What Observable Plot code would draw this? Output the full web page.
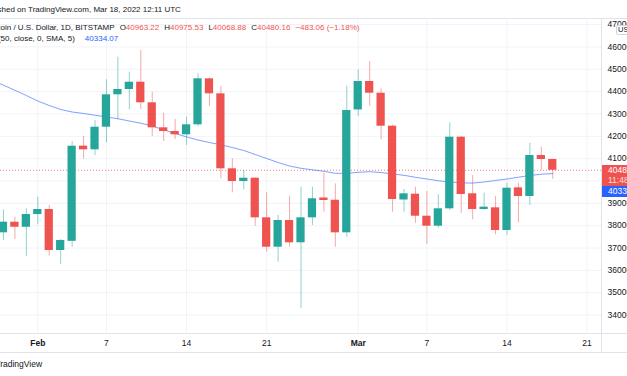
<!DOCTYPE html>
<html>
<head>
<meta charset="utf-8">
<script src="https://cdn.jsdelivr.net/npm/d3@7"></script>
<script src="https://cdn.jsdelivr.net/npm/@observablehq/plot@0.6"></script>
<style>
  html, body { margin: 0; padding: 0; background: #ffffff; }
  body { width: 627px; height: 376px; overflow: hidden; position: relative; font-family: "Liberation Sans", Arial, sans-serif; color: #131722; }
  #chart { position: absolute; left: 0; top: 0; }
  .txt { position: absolute; white-space: nowrap; font-size: 8px; line-height: 10px; color: #131722; }
  .red { color: #ef5350; }
  .blue { color: #2962ff; }
  .gap { margin-left: 5px; }
  .hline { position: absolute; height: 1px; background: #e0e3eb; left: 0; width: 627px; }
  .vline { position: absolute; width: 1px; background: #e0e3eb; }
  .box { position: absolute; left: 602px; width: 25px; overflow: hidden; color: #ffffff; font-size: 8.5px; }
  .box span { position: absolute; left: 6px; line-height: 9px; white-space: nowrap; }
</style>
</head>
<body>
<div id="chart"></div>
<script>
// ---- data ----
const dates = ["2022-01-29","2022-01-30","2022-01-31","2022-02-01","2022-02-02","2022-02-03","2022-02-04","2022-02-05","2022-02-06","2022-02-07","2022-02-08","2022-02-09","2022-02-10","2022-02-11","2022-02-12","2022-02-13","2022-02-14","2022-02-15","2022-02-16","2022-02-17","2022-02-18","2022-02-19","2022-02-20","2022-02-21","2022-02-22","2022-02-23","2022-02-24","2022-02-25","2022-02-26","2022-02-27","2022-02-28","2022-03-01","2022-03-02","2022-03-03","2022-03-04","2022-03-05","2022-03-06","2022-03-07","2022-03-08","2022-03-09","2022-03-10","2022-03-11","2022-03-12","2022-03-13","2022-03-14","2022-03-15","2022-03-16","2022-03-17","2022-03-18"];
const open  = [37682,38157,37930,38500,38725,36890,37300,41560,41396,42407,43857,44094,44420,43499,42380,42215,42067,42514,44573,43901,40546,39978,40125,38353,37038,38233,37235,38353,39240,39140,37682,43180,44452,43928,42452,39150,39410,38425,37978,38756,41960,39427,38725,38800,37785,39694,39306,41141,40963.22];
const high  = [38711,38380,38756,39275,38904,37383,41767,41990,42707,44528,45539,44868,45838,43973,43033,42751,42854,44796,44590,44228,40993,40470,40150,39472,38457,39320,39723,39723,40349,39875,44241,44975,45346,44125,42500,39620,39723,39530,39383,42604,42004,40246,39454,39306,39902,39902,41691,41512,40975.53];
const low   = [37338,37383,36622,38040,36636,36264,37040,40975,41140,41709,42738,43185,43199,41990,41767,41857,41588,42430,43333,40098,39472,39606,37978,36815,36367,37038,34309,38009,38604,37038,37486,42886,43346,41843,38604,38604,38112,37159,37888,38680,38559,38264,38680,37593,37562,38130,38904,40470,40068.88];
const close = [38157,37930,38500,38725,36890,37338,41557,41396,42407,43857,44094,44420,43499,42380,42215,42067,42514,44573,43901,40546,39978,40125,38353,37038,38233,37235,38353,39204,39128,37682,43154,44452,43928,42452,39172,39427,38425,37978,38756,41960,39396,38725,38829,37785,39678,39306,41141,40962,40480.16];
const smaDates = ["2022-01-28", ...dates];
const sma = [44514,44286,44058,43825,43579,43378,43199,43087,43020,42944,42863,42787,42684,42586,42461,42291,42125,41973,41834,41722,41620,41499,41365,41186,41007,40828,40671,40568,40501,40434,40344,40344,40389,40416,40380,40313,40255,40166,40089,40013,39955,39919,39906,39955,40022,40089,40170,40246,40304,40334.07];
const yTicks = [34000,35000,36000,37000,38000,39000,40000,41000,42000,43000,44000,45000,46000,47000];
const monthTicks = ["2022-02-01","2022-03-01"];
const dayTicks = ["2022-02-07","2022-02-14","2022-02-21","2022-03-07","2022-03-14","2022-03-21"];
const xDomain = ["2022-01-28T17:47Z","2022-03-22T06:11Z"];
const yDomain = [33177, 47271];
const lastClose = 40480.16;
const smaLast = 40334.07;

// ---- build ----
const GREEN = "#26a69a", RED = "#ef5350";
const DAY = 864e5;
const candles = dates.map((d, i) => ({date: new Date(d), open: open[i], high: high[i], low: low[i], close: close[i]}));
const smaData = smaDates.map((d, i) => ({date: new Date(d), value: sma[i]}));
const isUp = d => d.close >= d.open;
const upC = candles.filter(isUp), dnC = candles.filter(d => !isUp(d));
const bodyX1 = d => new Date(+d.date - 0.36 * DAY);
const bodyX2 = d => new Date(+d.date + 0.36 * DAY);
const allTicks = [...monthTicks, ...dayTicks].map(d => new Date(d));

const chart = Plot.plot({
  width: 627, height: 376,
  marginTop: 18, marginRight: 26, marginBottom: 43, marginLeft: 0,
  style: {fontFamily: "'Liberation Sans', Arial, sans-serif", fontSize: "8.5px", color: "#131722", background: "transparent"},
  x: {type: "utc", domain: xDomain.map(d => new Date(d))},
  y: {type: "linear", domain: yDomain},
  marks: [
    Plot.gridY({ticks: yTicks, stroke: "#f0f3fa", strokeOpacity: 1}),
    Plot.gridX({ticks: allTicks, stroke: "#f0f3fa", strokeOpacity: 1}),
    Plot.ruleY([lastClose], {stroke: RED, strokeOpacity: 0.75, strokeDasharray: "1,2"}),
    Plot.line(smaData, {x: "date", y: "value", stroke: "#2962ff", strokeOpacity: 0.6, strokeWidth: 1}),
    Plot.ruleX(upC, {x: "date", y1: "low", y2: "high", stroke: GREEN, strokeOpacity: 0.5}),
    Plot.ruleX(dnC, {x: "date", y1: "low", y2: "high", stroke: RED, strokeOpacity: 0.5}),
    Plot.rect(upC, {x1: bodyX1, x2: bodyX2, y1: "open", y2: "close", fill: GREEN}),
    Plot.rect(dnC, {x1: bodyX1, x2: bodyX2, y1: "open", y2: "close", fill: RED}),
    Plot.axisY({anchor: "right", ticks: yTicks, tickSize: 0, tickPadding: 6, tickFormat: d => String(d), fill: "#131722", fontSize: 8.5}),
    Plot.axisX({ticks: dayTicks.map(d => new Date(d)), tickSize: 0, tickPadding: 6, tickFormat: d => String(d.getUTCDate()), fill: "#131722", fontSize: 8.5}),
    Plot.axisX({ticks: monthTicks.map(d => new Date(d)), tickSize: 0, tickPadding: 6, tickFormat: d3.utcFormat("%b"), fill: "#131722", fontSize: 8.5, fontWeight: "bold"})
  ]
});
document.getElementById("chart").appendChild(chart);

// ---- overlays: frame lines, legend texts, price labels ----
const body = document.body;
function el(cls, css, html) {
  const e = document.createElement("div");
  e.className = cls;
  Object.assign(e.style, css);
  if (html != null) e.innerHTML = html;
  body.appendChild(e);
  return e;
}
el("hline", {top: "18px"});
el("hline", {top: "333px"});
el("hline", {top: "352px"});
el("vline", {left: "601px", top: "18px", height: "334px"});

const ctx = document.createElement("canvas").getContext("2d");
function w(text, size) { ctx.font = size + "px 'Liberation Sans', Arial, sans-serif"; return ctx.measureText(text).width; }
const fmt = d3.format(".2f");
const chg = lastClose - open[open.length - 1];
const pct = chg / open[open.length - 1] * 100;
const minus = v => (v < 0 ? "\u2212" : "") + fmt(Math.abs(v));

el("txt", {top: "4.5px", left: (1.5 - w("Publis", 8)) + "px"}, "Published on TradingView.com, Mar 18, 2022 12:11 UTC");
el("txt", {top: "23.3px", left: (0.5 - w("Bitc", 8)) + "px"},
  "Bitcoin / U.S. Dollar, 1D, BITSTAMP" +
  `<span class="gap">O</span><span class="red">${fmt(open[open.length-1])}</span>` +
  `<span class="gap">H</span><span class="red">${fmt(high[high.length-1])}</span>` +
  `<span class="gap">L</span><span class="red">${fmt(low[low.length-1])}</span>` +
  `<span class="gap">C</span><span class="red">${fmt(lastClose)}</span>` +
  `<span class="gap red">${minus(chg)} (${minus(pct)}%)</span>`);
el("txt", {top: "34.3px", left: (1 - w("MA (", 8)) + "px"},
  `MA (50, close, 0, SMA, 5)<span class="gap"></span><span class="gap blue">${fmt(smaLast)}</span>`);
el("txt", {top: "359px", left: (0.5 - w("T", 8.5)) + "px", fontSize: "8.5px"}, "TradingView");

const ys = chart.scale("y");
const yLast = ys.apply(lastClose);
const redTop = yLast - 5;
el("box", {top: redTop + "px", height: "21px", background: RED},
  `<span style="top:1.4px">${Math.round(lastClose)}</span><span style="top:11.4px;opacity:0.8">11:48</span>`);
el("box", {top: (redTop + 21) + "px", height: "11px", background: "#2962ff"},
  `<span style="top:1px">${Math.round(smaLast)}</span>`);
// currency tag at the top of the price scale
el("txt", {top: (ys.apply(47000) + 1) + "px", left: "615.5px", height: "8px", lineHeight: "8px", fontSize: "7.5px",
  background: "#fff", border: "1px solid #d1d4dc", borderRadius: "2px", padding: "0 3px 0 1.5px"}, "USD");
</script>
</body>
</html>
